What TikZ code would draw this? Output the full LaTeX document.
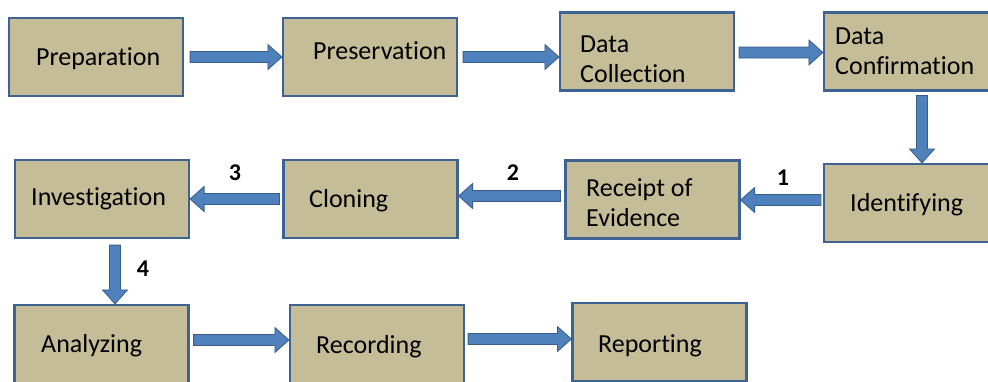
\documentclass[tikz,border=0pt]{standalone}
\usepackage{fontspec}
\setmainfont{Carlito}[RawFeature={-liga}]
\usetikzlibrary{calc,positioning}
\definecolor{boxfill}{RGB}{196,189,151}
\definecolor{boxline}{RGB}{62,98,146}
\definecolor{arrfill}{RGB}{79,129,189}
\definecolor{arrline}{RGB}{56,93,138}
\tikzset{
  stagebox/.style={rectangle, draw=boxline, fill=boxfill, line width=2.2pt,
    minimum width=174pt, minimum height=78pt, inner sep=0pt},
  stagetext/.style={anchor=base west, inner sep=0pt, align=left,
    font=\fontsize{26}{30}\selectfont},
  steplabel/.style={inner sep=0pt, font=\fontsize{24}{28}\selectfont\bfseries},
  blockarrow/.style={draw=arrline, fill=arrfill, line width=0.8pt, line join=miter,
    to path={let \p1=($(\tikztotarget)-(\tikztostart)$),
      \n1={atan2(\y1,\x1)}, \n2={veclen(\x1,\y1)-14} in
      ($(\tikztostart)+(\n1+90:5.5pt)$) -- ++(\n1:\n2) -- ++(\n1+90:7pt)
      -- (\tikztotarget)
      -- ($(\tikztostart)+(\n1:\n2)+(\n1-90:12.5pt)$) -- ++(\n1+90:7pt)
      -- ($(\tikztostart)+(\n1-90:5.5pt)$) -- cycle}}
}
\begin{document}
\begin{tikzpicture}[x=1pt,y=-1pt]
  \useasboundingbox (0,0) rectangle (988,381);
  \clip (0,0) rectangle (988,381);
  % top row
  \node[stagebox] (prep) at (96,57) {};
  \node[stagebox] (pres) at (370,57) {};
  \node[stagebox] (coll) at (647,51.5) {};
  \node[stagebox] (conf) at (911,51.5) {};
  % middle row, runs right to left
  \node[stagebox] (ident) at (911,203) {};
  \node[stagebox] (receipt) at (652.5,199.5) {};
  \node[stagebox] (clon) at (370.5,199) {};
  \node[stagebox] (invest) at (102,199) {};
  % bottom row
  \node[stagebox] (analyz) at (101.5,344) {};
  \node[stagebox] (record) at (377,344) {};
  \node[stagebox] (report) at (659.5,342) {};
  % box texts (two-line ones sit on their last line)
  \node[stagetext] (prep-t) at (36,65) {Preparation};
  \node[stagetext] (pres-t) at (313,59) {Preservation};
  \node[stagetext] (coll-t) at (580,82) {Data\\Collection};
  \node[stagetext] (conf-t) at (835,74) {Data\\Confirmation};
  \node[stagetext] (ident-t) at (850,211) {Identifying};
  \node[stagetext] (receipt-t) at (586,226) {Receipt of\\Evidence};
  \node[stagetext] (clon-t) at (309,207) {Cloning};
  \node[stagetext] (invest-t) at (31,205) {Investigation};
  \node[stagetext] (analyz-t) at (41,352) {Analyzing};
  \node[stagetext] (record-t) at (316,353) {Recording};
  \node[stagetext] (report-t) at (598,352) {Reporting};
  % arrow tails
  \coordinate (a3s) at ($(coll.east)+(4,1)$);
  \coordinate (a4s) at ($(conf.south)+(11,4)$);
  \coordinate (a5s) at ($(ident.west)+(-2,-3)$);
  \coordinate (a6s) at ($(receipt.west)+(-4,-3.5)$);
  \coordinate (a8s) at ($(invest.south)+(13,6)$);
  \coordinate (a9s) at ($(analyz.east)+(4,-4)$);
  \coordinate (a10s) at ($(record.east)+(3,-5)$);
  % arrows
  \draw[blockarrow] ($(prep.east)+(6,0)$) to (pres.west);
  \draw[blockarrow] ($(pres.east)+(5,0)$) to (pres.east -| coll.west);
  \draw[blockarrow] (a3s) to (a3s -| conf.west);
  \draw[blockarrow] (a4s) to (a4s |- ident.north);
  \draw[blockarrow] (a5s) to (a5s -| receipt.east);
  \draw[blockarrow] (a6s) to (a6s -| clon.east);
  \draw[blockarrow] ($(clon.west)+(-3,0)$) to (clon.west -| invest.east);
  \draw[blockarrow] (a8s) to (a8s |- analyz.north);
  \draw[blockarrow] (a9s) to (a9s -| record.west);
  \draw[blockarrow] (a10s) to (a10s -| report.west);
  % step numbers
  \node[steplabel] (lab1) at (783,178) {1};
  \node[steplabel] (lab2) at (513,173) {2};
  \node[steplabel] (lab3) at (235,173) {3};
  \node[steplabel] (lab4) at (143,269) {4};
\end{tikzpicture}
\end{document}
